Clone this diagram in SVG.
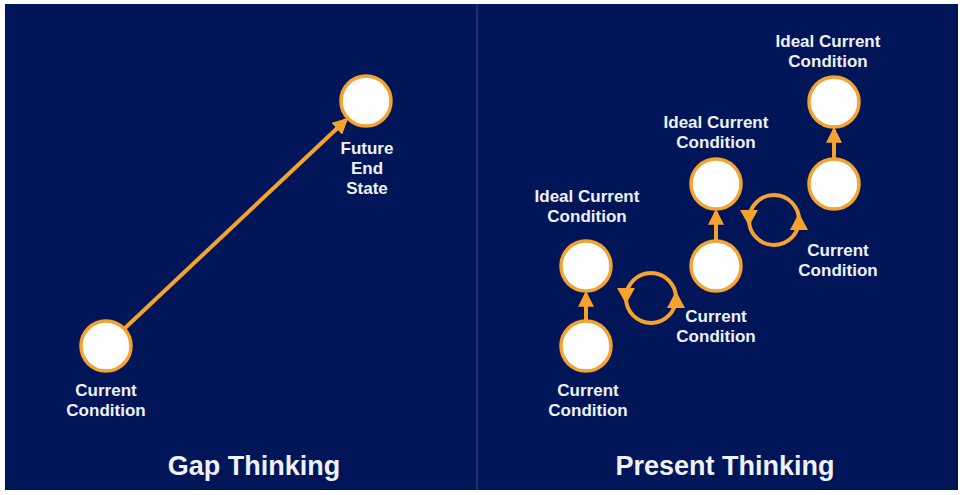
<svg xmlns="http://www.w3.org/2000/svg" width="963" height="495" viewBox="0 0 963 495">
<defs>
<style>
.bg{fill:#011659}
.node circle{fill:#ffffff;stroke:#F5A32E;stroke-width:3.5}
.lbl{font-family:"Liberation Sans",Arial,sans-serif;font-weight:bold;font-size:17px;fill:#EEF1F8;text-anchor:middle}
.title{font-family:"Liberation Sans",Arial,sans-serif;font-weight:bold;font-size:27px;fill:#EEF1F8;text-anchor:middle}
.ln{stroke:#F5A32E;stroke-width:4;fill:none}
.ah{fill:#F5A32E}
</style>
<marker id="arr" viewBox="0 0 10 10" refX="8" refY="5" markerWidth="4" markerHeight="4" orient="auto" markerUnits="strokeWidth">
<path d="M0,0 L10,5 L0,10 z" fill="#F5A32E"/>
</marker>
</defs>
<rect x="0" y="0" width="963" height="495" fill="#ffffff"/>
<rect class="bg" x="5" y="4" width="953" height="486"/>
<line x1="477" y1="4" x2="477" y2="490" stroke="#1E2F6E" stroke-width="2"/>

<g id="connectors">
<line class="ln" x1="124" y1="329" x2="346" y2="120" marker-end="url(#arr)"/>
<line class="ln" x1="586" y1="321" x2="586" y2="294" stroke-width="3.5" marker-end="url(#arr)"/>
<line class="ln" x1="716" y1="241" x2="716" y2="212" stroke-width="3.5" marker-end="url(#arr)"/>
<line class="ln" x1="834" y1="159" x2="834" y2="130" stroke-width="3.5" marker-end="url(#arr)"/>
<g id="cycle1">
<circle class="ln" cx="651" cy="298" r="25"/>
<polygon class="ah" points="617,288 635,288 626,304"/>
<polygon class="ah" points="667,308 685,308 676,291"/>
</g>
<g id="cycle2">
<circle class="ln" cx="774" cy="220" r="25"/>
<polygon class="ah" points="740,210 758,210 749,226"/>
<polygon class="ah" points="790,230 808,230 799,213"/>
</g>
</g>

<g id="gap-current" class="node">
<circle cx="106" cy="346" r="25"/>
<text class="lbl" x="106" y="396">Current</text>
<text class="lbl" x="106" y="416">Condition</text>
</g>
<g id="gap-future" class="node">
<circle cx="366" cy="101" r="25"/>
<text class="lbl" x="367" y="154">Future</text>
<text class="lbl" x="367" y="174">End</text>
<text class="lbl" x="367" y="194">State</text>
</g>

<g id="p-current1" class="node">
<circle cx="586" cy="346" r="25"/>
<text class="lbl" x="588" y="396">Current</text>
<text class="lbl" x="588" y="416">Condition</text>
</g>
<g id="p-ideal1" class="node">
<circle cx="586" cy="266" r="25"/>
<text class="lbl" x="587" y="202">Ideal Current</text>
<text class="lbl" x="587" y="222">Condition</text>
</g>
<g id="p-current2" class="node">
<circle cx="716" cy="266" r="25"/>
<text class="lbl" x="716" y="322">Current</text>
<text class="lbl" x="716" y="342">Condition</text>
</g>
<g id="p-ideal2" class="node">
<circle cx="716" cy="184" r="25"/>
<text class="lbl" x="716" y="128">Ideal Current</text>
<text class="lbl" x="716" y="148">Condition</text>
</g>
<g id="p-current3" class="node">
<circle cx="834" cy="184" r="25"/>
<text class="lbl" x="838" y="256">Current</text>
<text class="lbl" x="838" y="276">Condition</text>
</g>
<g id="p-ideal3" class="node">
<circle cx="834" cy="102" r="25"/>
<text class="lbl" x="828" y="47">Ideal Current</text>
<text class="lbl" x="828" y="67">Condition</text>
</g>

<text class="title" x="254" y="475">Gap Thinking</text>
<text class="title" x="725" y="475">Present Thinking</text>
</svg>
